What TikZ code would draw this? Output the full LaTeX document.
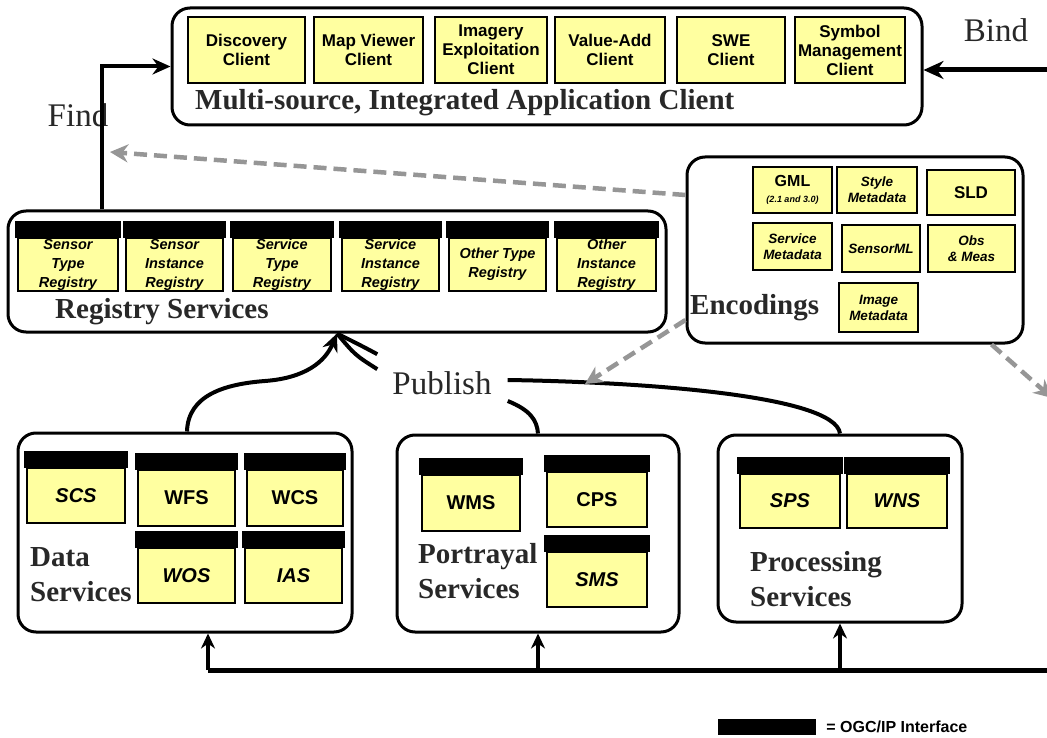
\documentclass[tikz,border=0pt]{standalone}
\usepackage{fontspec}
\setmainfont{Liberation Serif}
\setsansfont{Liberation Sans}
\usepackage{xcolor}
\definecolor{boxyellow}{RGB}{255, 255, 160}
\definecolor{encgray}{RGB}{150, 150, 150}
\definecolor{titlegray}{RGB}{40, 40, 40}
\usepackage{tikz}
\usetikzlibrary{arrows.meta, positioning}

\tikzset{
  grp/.style={draw, line width=3pt, rounded corners=18pt},
  item/.style={draw, line width=2.8pt, fill=boxyellow, align=center, inner sep=0pt},
  clientitem/.style={item, minimum height=66pt, font=\sffamily\bfseries\fontsize{17}{19}\selectfont},
  regitem/.style={item, minimum height=53pt, font=\sffamily\bfseries\itshape\fontsize{14.5}{19}\selectfont},
  svcitem/.style={item, font=\sffamily\bfseries\fontsize{20}{22}\selectfont},
  encitem/.style={item, font=\sffamily\bfseries\itshape\fontsize{13.5}{16}\selectfont},
  grouptitle/.style={font=\bfseries\fontsize{29}{35}\selectfont, text=titlegray, align=left, inner sep=0pt},
  verb/.style={font=\fontsize{33}{36}\selectfont, text=titlegray, inner sep=2pt},
  link/.style={line width=4pt},
  busarrow/.style={link, -{Stealth[length=15pt,width=14pt]}},
  encflow/.style={draw=encgray, line width=4.5pt, dash pattern=on 13pt off 7pt, -{Stealth[length=18pt,width=18pt]}},
}

\begin{document}
\begin{tikzpicture}[x=1pt, y=-1pt, >={Stealth[length=18pt,width=16pt]}]
    \fill[white] (0,0) rectangle (1047,738);
    \useasboundingbox (0,0) rectangle (1047,738);

    % application client
    \node[grp, minimum width=750pt, minimum height=117pt] (client) at (547,66.5) {};
    \node[clientitem, minimum width=117pt] (discovery) at (246.5,50) {Discovery\\Client};
    \node[clientitem, minimum width=109pt] (mapviewer) at (368.5,50) {Map Viewer\\Client};
    \node[clientitem, minimum width=112pt] (imagery) at (491,50) {Imagery\\Exploitation\\Client};
    \node[clientitem, minimum width=110pt] (valueadd) at (610,50) {Value-Add\\Client};
    \node[clientitem, minimum width=108pt] (swe) at (731,50) {SWE\\Client};
    \node[clientitem, minimum width=110pt] (symbol) at (850,50) {Symbol\\Management\\Client};
    \node[grouptitle, anchor=west] (clienttitle) at (195,103) {Multi-source, Integrated Application Client};

    % registry services
    \node[grp, minimum width=658pt, minimum height=121pt] (registry) at (337,271.5) {};
    \node[regitem, minimum width=100pt] (senstype) at (68,264.5) {Sensor\\Type\\Registry};
    \node[regitem, minimum width=97pt] (sensinst) at (174.5,264.5) {Sensor\\Instance\\Registry};
    \node[regitem, minimum width=98pt] (svctype) at (282,264.5) {Service\\Type\\Registry};
    \node[regitem, minimum width=97pt] (svcinst) at (390.5,264.5) {Service\\Instance\\Registry};
    \node[regitem, minimum width=97pt] (othtype) at (497.5,264.5) {Other Type\\Registry};
    \node[regitem, minimum width=99pt] (othinst) at (606.5,264.5) {Other\\Instance\\Registry};
    \node[grouptitle, anchor=west] (regtitle) at (55,312) {Registry Services};

    % encodings
    \node[grp, minimum width=336pt, minimum height=186pt] (encodings) at (855,250) {};
    \node[encitem, minimum width=79pt, minimum height=46pt] (gml) at (792.5,190) {\upshape\fontsize{16}{16}\selectfont GML\\{\fontsize{9}{10}\selectfont (2.1 and 3.0)}};
    \node[encitem, minimum width=80pt, minimum height=46pt] (stylemeta) at (877,190) {Style\\Metadata};
    \node[encitem, minimum width=88pt, minimum height=45pt] (sld) at (971,192.5) {\upshape\fontsize{17}{19}\selectfont SLD};
    \node[encitem, minimum width=79pt, minimum height=47pt] (svcmeta) at (792.5,246.5) {Service\\Metadata};
    \node[encitem, minimum width=78pt, minimum height=47pt] (sensorml) at (881,248.5) {SensorML};
    \node[encitem, minimum width=87pt, minimum height=47pt] (obsmeas) at (971.5,248.5) {Obs\\\& Meas};
    \node[encitem, minimum width=79pt, minimum height=49pt] (imagemeta) at (878.5,307.5) {Image\\Metadata};
    \node[grouptitle, anchor=west] (enctitle) at (690,308) {Encodings};

    % data, portrayal and processing services
    \node[grp, minimum width=334pt, minimum height=199pt] (datasvc) at (185,532.5) {};
    \node[svcitem, minimum width=98pt, minimum height=55pt] (scs) at (76,495.5) {\itshape SCS};
    \node[svcitem, minimum width=97pt, minimum height=56pt] (wfs) at (186.5,498) {WFS};
    \node[svcitem, minimum width=96pt, minimum height=56pt] (wcs) at (295,498) {WCS};
    \node[svcitem, minimum width=97pt, minimum height=55pt] (wos) at (186.5,575.5) {\itshape WOS};
    \node[svcitem, minimum width=97pt, minimum height=55pt] (ias) at (293.5,575.5) {\itshape IAS};
    \node[grouptitle, anchor=west] (datatitle) at (30,574.5) {Data\\Services};

    \node[grp, minimum width=282pt, minimum height=197pt] (portrayal) at (538,533.5) {};
    \node[svcitem, minimum width=98pt, minimum height=56pt] (wms) at (471,503) {WMS};
    \node[svcitem, minimum width=100pt, minimum height=55pt] (cps) at (597,499.5) {CPS};
    \node[svcitem, minimum width=100pt, minimum height=55pt] (sms) at (597,579.5) {\itshape SMS};
    \node[grouptitle, anchor=west] (portitle) at (418,571.5) {Portrayal\\Services};

    \node[grp, minimum width=244pt, minimum height=187pt] (processing) at (840,528.5) {};
    \node[svcitem, minimum width=100pt, minimum height=54pt] (sps) at (790,501) {\itshape SPS};
    \node[svcitem, minimum width=100pt, minimum height=54pt] (wns) at (897,501) {\itshape WNS};
    \node[grouptitle, anchor=west] (proctitle) at (750,579.5) {Processing\\Services};

    % black header bars
    \foreach \n in {senstype,sensinst,svctype,svcinst,othtype,othinst,scs,wfs,wcs,wos,ias,wms,cps,sms,sps,wns}
        \filldraw[line width=2.8pt] (\n.north west) rectangle ([yshift=14pt]\n.north east);

    % bind / find / publish
    \node[verb] (bind) at (996,30) {Bind};
    \node[verb] (find) at (78,115) {Find};
    \node[verb] (publish) at (442,383) {Publish};

    \coordinate (bindin) at (1047,70);
    \draw[line width=5pt, -{Stealth[length=20pt,width=18pt]}] (bindin) -- (client.east |- bindin);
    \draw[link, ->] ([xshift=95pt]registry.north west) |- (client.west);

    \draw[link, ->] ([xshift=2pt]datasvc.north) .. controls (188,395) and (225,384) .. (265,381) .. controls (305,378) and (325,362) .. (registry.south);
    \draw[link] ([xshift=-13pt,yshift=15pt]publish.north west) .. controls (360,345) .. (registry.south);
    \draw[link] ([xshift=-13pt]publish.north west) .. controls (355,355) .. (registry.south);
    \draw[link] ([xshift=14pt,yshift=3pt]publish.east) .. controls (640,382) and (835,395) .. (processing.north);
    \draw[link] ([xshift=14pt,yshift=-18pt]publish.east) .. controls (530,410) and (537,420) .. (portrayal.north);

    % encodings flow (grey, dashed)
    \coordinate (findtip) at (110,152);
    \coordinate (pubtip) at (585,384);
    \coordinate (edgetip) at (1052,398);
    \draw[encflow] ([yshift=55pt]encodings.west) -- (findtip);
    \draw[encflow] ([yshift=-70pt]encodings.west) -- (pubtip);
    \draw[encflow] ([xshift=-33pt]encodings.south east) -- (edgetip);

    % interface bus
    \coordinate (busleft) at (208,670);
    \coordinate (busright) at (1047,670);
    \draw[line width=5pt] (busleft) -- (busright);
    \draw[busarrow] (busleft) -- (busleft |- datasvc.south);
    \draw[busarrow] (portrayal.south |- busleft) -- (portrayal.south);
    \draw[busarrow] (processing.south |- busleft) -- (processing.south);

    \node[fill=black, minimum width=98pt, minimum height=16pt, inner sep=0pt] (legbar) at (767,727) {};
    \node[anchor=west, font=\sffamily\bfseries\fontsize{16}{18}\selectfont, inner sep=0pt] (legtext) at ([xshift=10pt]legbar.east) {= OGC/IP Interface};
\end{tikzpicture}
\end{document}
